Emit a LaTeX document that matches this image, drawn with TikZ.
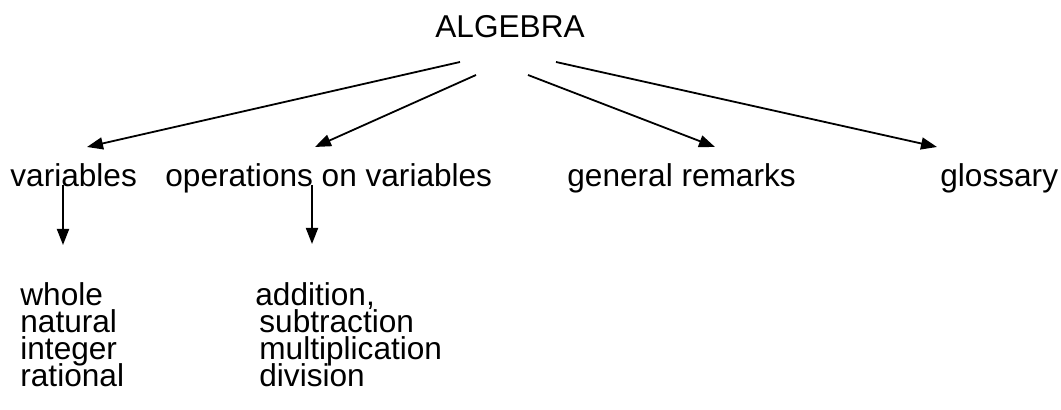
\documentclass[tikz,border=0pt]{standalone}
\usepackage{fontspec}
\setmainfont{Liberation Sans}
\usetikzlibrary{arrows.meta}
\newcommand{\listfont}{\fontsize{15.8}{13.5}\selectfont\lineskiplimit=-20pt\relax\lineskip=0pt\relax}
\tikzset{
    label-text/.style = {inner sep=0pt, anchor=base west, font=\fontsize{15.8}{13.5}\selectfont},
    list-text/.style = {inner sep=0pt, anchor=north west, align=left, font=\listfont},
    link-arrow/.style = {-{Triangle[length=8pt, width=6pt]}, line width=0.9pt},
}

\begin{document}
\begin{tikzpicture}[x=0.5pt, y=-0.5pt]
\useasboundingbox (0,0) rectangle (1061,410);

% top and second row
\node[label-text] (algebra) at (435,38) {ALGEBRA};
\node[label-text] (variables) at (10,187) {variables};
\node[label-text] (operations) at (165,187) {operations on variables};
\node[label-text] (remarks) at (567,187) {general remarks};
\node[label-text] (glossary) at (940,187) {glossary};

% lists
\node[list-text] (kinds) at (20,282) {whole\\natural\\integer\\rational};
\node[list-text] (ops) at (255,282) {addition,\\\hspace{2pt}subtraction\\\hspace{2pt}multiplication\\\hspace{2pt}division};

\draw[link-arrow] ([shift={(25,24)}]algebra.base west) -- ([shift={(77,-40)}]variables.base west);
\draw[link-arrow] ([shift={(41,37)}]algebra.base west) -- ([shift={(150,-40)}]operations.base west);
\draw[link-arrow] ([shift={(93,37)}]algebra.base west) -- ([shift={(148,-40)}]remarks.base west);
\draw[link-arrow] ([shift={(121,24)}]algebra.base west) -- ([shift={(-3,-40)}]glossary.base west);

\draw[link-arrow] ([shift={(53,-2)}]variables.base west) -- ([shift={(53,58)}]variables.base west);
\draw[link-arrow] ([shift={(147,-2)}]operations.base west) -- ([shift={(147,57)}]operations.base west);
\end{tikzpicture}
\end{document}
